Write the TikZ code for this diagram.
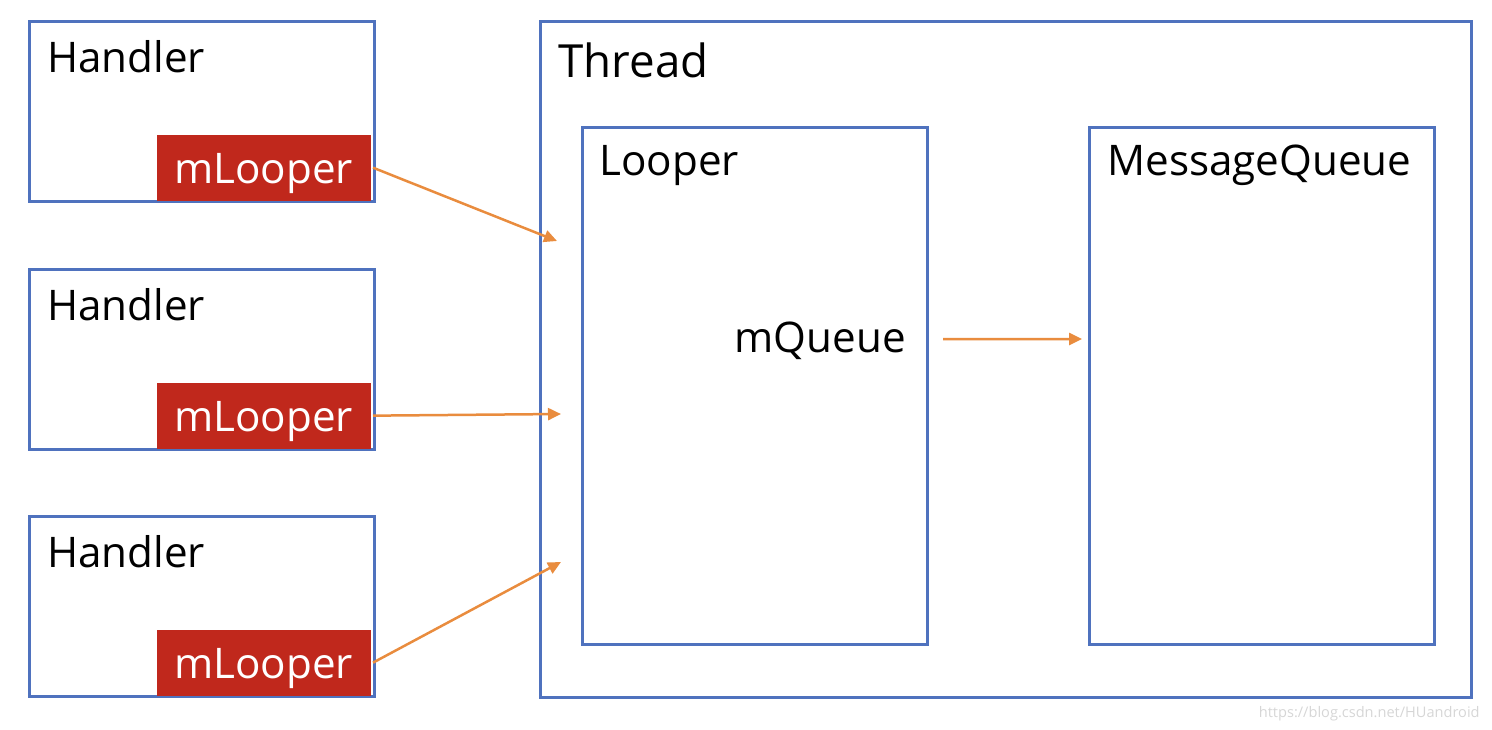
\documentclass[tikz,border=0pt]{standalone}
\usepackage{fontspec}
\setmainfont{Open Sans}
\usetikzlibrary{arrows.meta,positioning}
\definecolor{BoxBlue}{RGB}{79,114,190}
\definecolor{FieldRed}{RGB}{192,40,28}
\definecolor{ArrowOrange}{RGB}{233,140,62}

\begin{document}
\begin{tikzpicture}[x=0.02cm,y=-0.02cm,
    box/.style={draw=BoxBlue, line width=0.06cm, fill=white, inner sep=0pt, anchor=north west},
    field/.style={fill=FieldRed, text=white, inner sep=0pt, minimum width=4.28cm, minimum height=1.32cm,
                  text height=0.8cm, text depth=0.16cm, anchor=south east, font=\fontsize{24}{28}\selectfont},
    title/.style={inner sep=0pt, anchor=base west, font=\fontsize{24}{28}\selectfont},
    link/.style={draw=ArrowOrange, line width=0.05cm, -{Triangle[length=0.26cm, width=0.24cm]}}]
    \useasboundingbox (0,0) rectangle (1492,730);
    %%Thread
    \node[box, minimum width=18.62cm, minimum height=13.52cm] (thread) at (539,20) {};
    \node[title, font=\fontsize{26}{30}\selectfont] (threadlabel) at (558,77) {Thread};
    \node[box, minimum width=6.9cm, minimum height=10.34cm] (looper) at (581,126) {};
    \node[title] (looperlabel) at (599,175) {Looper};
    \node[box, minimum width=6.9cm, minimum height=10.34cm] (queue) at (1088,126) {};
    \node[title] (queuelabel) at (1107,175) {MessageQueue};
    \node[title, anchor=base east] (mqueue) at (906,352) {mQueue};
    \coordinate (queuetip) at (1082,339);
    \draw[link] ([xshift=0.74cm, yshift=0.26cm]mqueue.base east) -- (queuetip);
    %%Handlers
    \foreach \i/\y/\tx/\ty in {1/20/557/241, 2/268/561/414, 3/515/561/562}
    {
    \node[box, minimum width=6.9cm, minimum height=3.6cm] (handler\i) at (28,\y) {};
    \node[title] (handlerlabel\i) at (47,\y+52) {Handler};
    \node[field] (mlooper\i) at (371,\y+181) {mLooper};
    \coordinate (tip\i) at (\tx,\ty);
    \draw[link] ([xshift=0.04cm]mlooper\i.east) -- (tip\i);
    }
    \node[inner sep=0pt, anchor=base east, text=black!16, font=\fontsize{8.3}{10}\selectfont] (mark) at (1480,717) {https://blog.csdn.net/HUandroid};
\end{tikzpicture}
\end{document}
